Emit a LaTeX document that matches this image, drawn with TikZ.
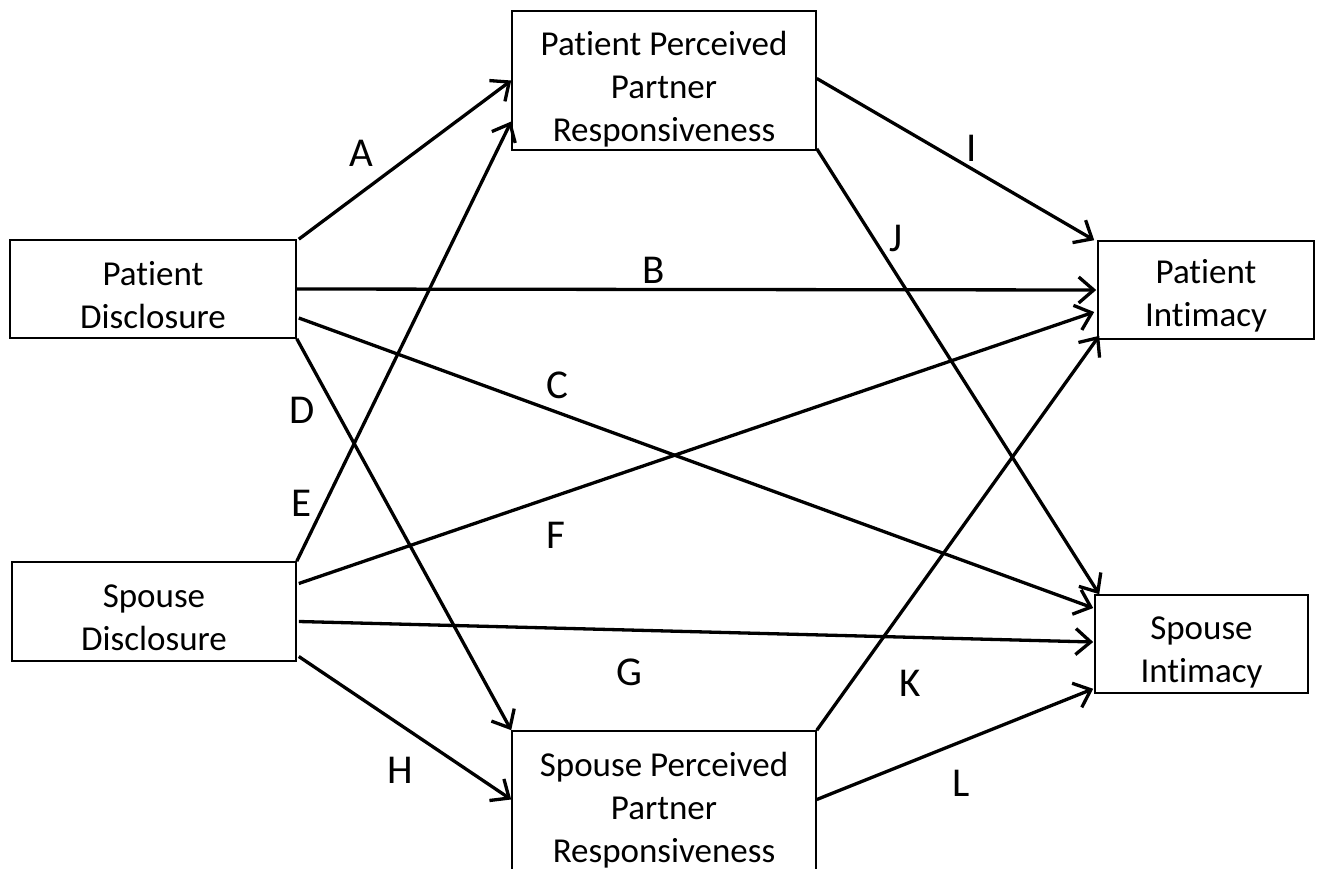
\documentclass[tikz,border=0pt]{standalone}
\usepackage{fontspec}
\setmainfont{Carlito}[Ligatures=NoCommon]
\usetikzlibrary{arrows.meta}

\begin{document}
\begin{tikzpicture}[x=1pt,y=-1pt,
  box/.style={draw,line width=1.6pt,inner sep=0pt},
  boxtext/.style={align=center,yshift=-6pt,font=\fontsize{35}{43}\selectfont},
  arr/.style={line width=3.3pt,-{Straight Barb[length=15pt,width=26pt,line width=3.3pt]}},
  lbl/.style={font=\fontsize{41}{48}\selectfont}]
 \useasboundingbox (0,0) rectangle (1320,869);
 % boxes
 \node[box,minimum width=286pt,minimum height=98pt,
   label={[boxtext]center:Patient\\Disclosure}] (pd) at (153,289) {};
 \node[box,minimum width=284pt,minimum height=99pt,
   label={[boxtext]center:Spouse\\Disclosure}] (sd) at (154,611.5) {};
 \node[box,minimum width=304pt,minimum height=139pt,
   label={[boxtext,yshift=-3pt]center:Patient Perceived\\Partner\\Responsiveness}] (pppr) at (664,80.5) {};
 \node[box,minimum width=304pt,minimum height=141pt,
   label={[boxtext,yshift=-3pt]center:Spouse Perceived\\Partner\\Responsiveness}] (sppr) at (664,801.5) {};
 \node[box,minimum width=216pt,minimum height=98pt,
   label={[boxtext]center:Patient\\Intimacy}] (pi) at (1206,290) {};
 \node[box,minimum width=213pt,minimum height=98pt,
   label={[boxtext,yshift=-2pt]center:Spouse\\Intimacy}] (si) at (1201.5,644) {};

 % paths
 \draw[arr] ([xshift=2pt]pd.north east) -- (pppr.west);
 \draw[arr] (pd.east) -- ([xshift=-1pt]pi.west);
 \draw[arr] ([xshift=2pt,yshift=-29pt]pd.east) -- ([xshift=-1pt,yshift=36pt]si.west);
 \draw[arr] (pd.south east) -- (sppr.north west);
 \draw[arr] (sd.north east) -- ([yshift=-41pt]pppr.west);
 \draw[arr] ([xshift=2pt,yshift=28pt]sd.east) -- ([xshift=-3pt,yshift=-22pt]pi.west);
 \draw[arr] ([xshift=2pt,yshift=-10pt]sd.east) -- ([xshift=-1pt,yshift=2pt]si.west);
 \draw[arr] ([xshift=2pt,yshift=-45pt]sd.east) -- ([yshift=2pt]sppr.west);
 \draw[arr] ([yshift=2pt]pppr.east) -- ([xshift=-3pt]pi.north west);
 \draw[arr] ([yshift=2pt]pppr.south east) -- ([xshift=5pt]si.north west);
 \draw[arr] (sppr.north east) -- ([xshift=2pt,yshift=4pt]pi.south west);
 \draw[arr] ([yshift=2pt]sppr.east) -- ([xshift=-1pt,yshift=5pt]si.south west);

 % labels
 \node[lbl] (la) at (361,153) {A};
 \node[lbl] (lb) at (654,270) {B};
 \node[lbl] (lc) at (557,385) {C};
 \node[lbl] (ld) at (302,410) {D};
 \node[lbl] (le) at (302,503) {E};
 \node[lbl] (lf) at (556,535) {F};
 \node[lbl] (lg) at (629,672) {G};
 \node[lbl] (lh) at (400,770) {H};
 \node[lbl] (li) at (972,148) {I};
 \node[lbl] (lj) at (896,238) {J};
 \node[lbl] (lk) at (910,683) {K};
 \node[lbl] (ll) at (961,783) {L};
\end{tikzpicture}
\end{document}
